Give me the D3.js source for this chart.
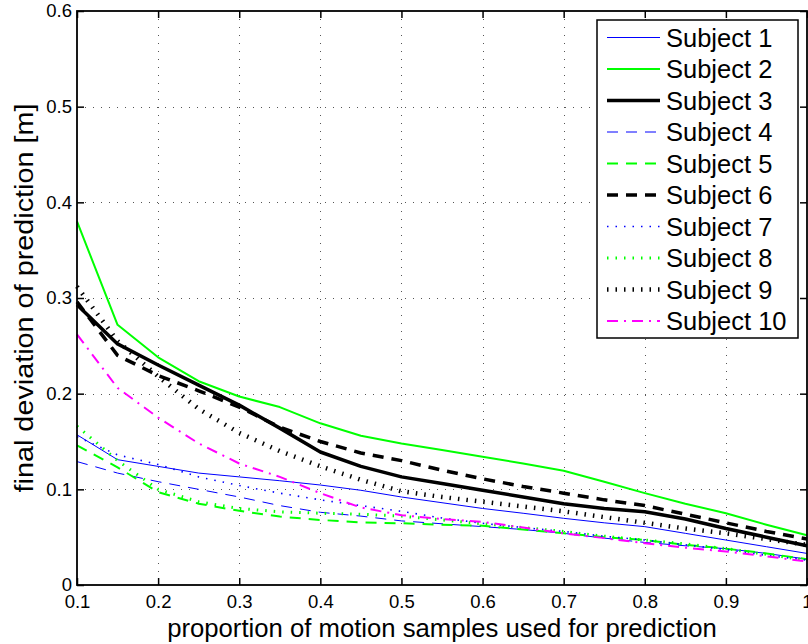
<!DOCTYPE html>
<html>
<head>
<meta charset="utf-8">
<script src="https://cdn.jsdelivr.net/npm/d3@7"></script>
<style>
  html, body { margin: 0; padding: 0; background: #fff; }
  svg { display: block; font-family: "Liberation Sans", Arial, Helvetica, sans-serif; }
</style>
</head>
<body>
<svg id="chart" width="808" height="644"></svg>
<script>
// ---- data ----
const xValues = [0.1, 0.15, 0.2, 0.25, 0.3, 0.35, 0.4, 0.45, 0.5, 0.55, 0.6, 0.65, 0.7, 0.75, 0.8, 0.85, 0.9, 0.95, 1.0];
const subjectNames = ["Subject 1","Subject 2","Subject 3","Subject 4","Subject 5","Subject 6","Subject 7","Subject 8","Subject 9","Subject 10"];
const subject1  = [0.157,0.131,0.124,0.117,0.113,0.109,0.1045,0.099,0.092,0.086,0.080,0.075,0.0697,0.065,0.061,0.054,0.047,0.040,0.033];
const subject2  = [0.380,0.272,0.238,0.213,0.197,0.186,0.169,0.156,0.148,0.141,0.134,0.127,0.1195,0.108,0.096,0.085,0.075,0.063,0.052];
const subject3  = [0.293,0.252,0.230,0.209,0.188,0.164,0.139,0.124,0.113,0.106,0.099,0.092,0.085,0.080,0.0766,0.069,0.059,0.050,0.041];
const subject4  = [0.129,0.117,0.108,0.100,0.092,0.083,0.076,0.072,0.067,0.064,0.061,0.058,0.054,0.049,0.0445,0.041,0.038,0.033,0.027];
const subject5  = [0.146,0.123,0.097,0.085,0.0775,0.0715,0.068,0.0655,0.0645,0.063,0.062,0.058,0.054,0.050,0.047,0.042,0.038,0.033,0.027];
const subject6  = [0.296,0.240,0.219,0.203,0.186,0.165,0.150,0.138,0.130,0.120,0.111,0.103,0.096,0.089,0.083,0.074,0.065,0.056,0.048];
const subject7  = [0.155,0.136,0.126,0.113,0.104,0.096,0.089,0.083,0.077,0.070,0.0645,0.060,0.056,0.051,0.047,0.042,0.037,0.031,0.026];
const subject8  = [0.166,0.130,0.100,0.087,0.080,0.0765,0.075,0.074,0.072,0.068,0.064,0.060,0.056,0.051,0.047,0.043,0.038,0.032,0.026];
const subject9  = [0.312,0.255,0.218,0.184,0.159,0.140,0.124,0.110,0.098,0.092,0.087,0.082,0.077,0.071,0.065,0.059,0.054,0.048,0.042];
const subject10 = [0.262,0.206,0.175,0.148,0.127,0.113,0.096,0.081,0.073,0.069,0.066,0.060,0.054,0.049,0.0436,0.039,0.035,0.030,0.0245];
const seriesValues = [subject1,subject2,subject3,subject4,subject5,subject6,subject7,subject8,subject9,subject10];
const xTicks = [0.1,0.2,0.3,0.4,0.5,0.6,0.7,0.8,0.9,1.0];
const xTickLabels = ["0.1","0.2","0.3","0.4","0.5","0.6","0.7","0.8","0.9","1"];
const yTicks = [0,0.1,0.2,0.3,0.4,0.5,0.6];
const yTickLabels = ["0","0.1","0.2","0.3","0.4","0.5","0.6"];
const xTitle = "proportion of motion samples used for prediction";
const yTitle = "final deviation of prediction [m]";

// ---- styles ----
const BLUE = "#0000ff", GREEN = "#00ff00", BLACK = "#000000", MAGENTA = "#ff00ff";
const DASH = "11,8", DOT = "1.5,7", DASHDOT = "11,6,2,6";
const styles = [
  {color: BLUE,    width: 1,   dash: null},
  {color: GREEN,   width: 2,   dash: null},
  {color: BLACK,   width: 3.5, dash: null},
  {color: BLUE,    width: 1,   dash: DASH},
  {color: GREEN,   width: 2,   dash: DASH},
  {color: BLACK,   width: 3.5, dash: DASH},
  {color: BLUE,    width: 1.6, dash: DOT},
  {color: GREEN,   width: 3,   dash: DOT},
  {color: BLACK,   width: 4.5, dash: DOT},
  {color: MAGENTA, width: 2,   dash: DASHDOT}
];

const L = 77, R = 807, T = 11, B = 585;
const svg = d3.select("#chart");
const x = d3.scaleLinear().domain([0.1, 1]).range([L, R]);
const y = d3.scaleLinear().domain([0, 0.6]).range([B, T]);

// grid
const grid = svg.append("g").attr("stroke", "#555").attr("stroke-width", 1).attr("stroke-dasharray", "1,7");
xTicks.slice(1, -1).forEach(t => {
  grid.append("line").attr("x1", Math.round(x(t)) + 0.5).attr("x2", Math.round(x(t)) + 0.5)
    .attr("y1", T).attr("y2", B);
});
yTicks.slice(1, -1).forEach(t => {
  grid.append("line").attr("y1", Math.round(y(t)) + 0.5).attr("y2", Math.round(y(t)) + 0.5)
    .attr("x1", L).attr("x2", R);
});

// series
const line = d3.line().x((d, i) => x(xValues[i])).y(d => y(d));
seriesValues.forEach((vals, i) => {
  const s = styles[i];
  svg.append("path").datum(vals).attr("d", line)
    .attr("fill", "none").attr("stroke", s.color).attr("stroke-width", s.width)
    .attr("stroke-dasharray", s.dash).attr("stroke-linejoin", "round");
});

// axes via d3 axis (inward ticks)
const fmtX = (d, i) => xTickLabels[i];
const fmtY = (d, i) => yTickLabels[i];
const axB = svg.append("g").attr("transform", `translate(0,${B})`)
  .call(d3.axisBottom(x).tickValues(xTicks).tickFormat(fmtX).tickSizeInner(-7).tickSizeOuter(0).tickPadding(10));
const axT = svg.append("g").attr("transform", `translate(0,${T})`)
  .call(d3.axisTop(x).tickValues(xTicks).tickFormat("").tickSizeInner(-7).tickSizeOuter(0));
const axL = svg.append("g").attr("transform", `translate(${L},0)`)
  .call(d3.axisLeft(y).tickValues(yTicks).tickFormat(fmtY).tickSizeInner(-7).tickSizeOuter(0).tickPadding(5));
const axR = svg.append("g").attr("transform", `translate(${R},0)`)
  .call(d3.axisRight(y).tickValues(yTicks).tickFormat("").tickSizeInner(-7).tickSizeOuter(0));
[axB, axT, axL, axR].forEach(a => {
  a.select(".domain").remove();
  a.selectAll(".tick line").attr("stroke", "#000").attr("stroke-width", 1.5);
  a.selectAll("text").attr("font-size", 18.5).attr("fill", "#000")
    .attr("font-family", "'Liberation Sans', Arial, Helvetica, sans-serif");
});
axB.selectAll("text").attr("dy", "0.71em");

// box
svg.append("rect").attr("x", L).attr("y", T).attr("width", R - L).attr("height", B - T)
  .attr("fill", "none").attr("stroke", "#000").attr("stroke-width", 1.8);

// titles
svg.append("text").attr("x", (L + R) / 2).attr("y", 637).attr("text-anchor", "middle")
  .attr("font-size", 25.7).text(xTitle);
svg.append("text").attr("transform", `translate(33,${(T + B) / 2}) rotate(-90) scale(1.13,1)`)
  .attr("text-anchor", "middle").attr("font-size", 25.5).text(yTitle);

// legend
const lg = svg.append("g");
lg.append("rect").attr("x", 597).attr("y", 20).attr("width", 201).attr("height", 318)
  .attr("fill", "#fff").attr("stroke", "#000").attr("stroke-width", 1.5);
subjectNames.forEach((name, i) => {
  const s = styles[i];
  const yy = 37.5 + i * 31.5;
  lg.append("line").attr("x1", 607).attr("x2", 660).attr("y1", yy).attr("y2", yy)
    .attr("stroke", s.color).attr("stroke-width", s.width).attr("stroke-dasharray", s.dash);
  lg.append("text").attr("x", 666).attr("y", yy).attr("dy", "0.36em")
    .attr("font-size", 25.5).text(name);
});
</script>
</body>
</html>
